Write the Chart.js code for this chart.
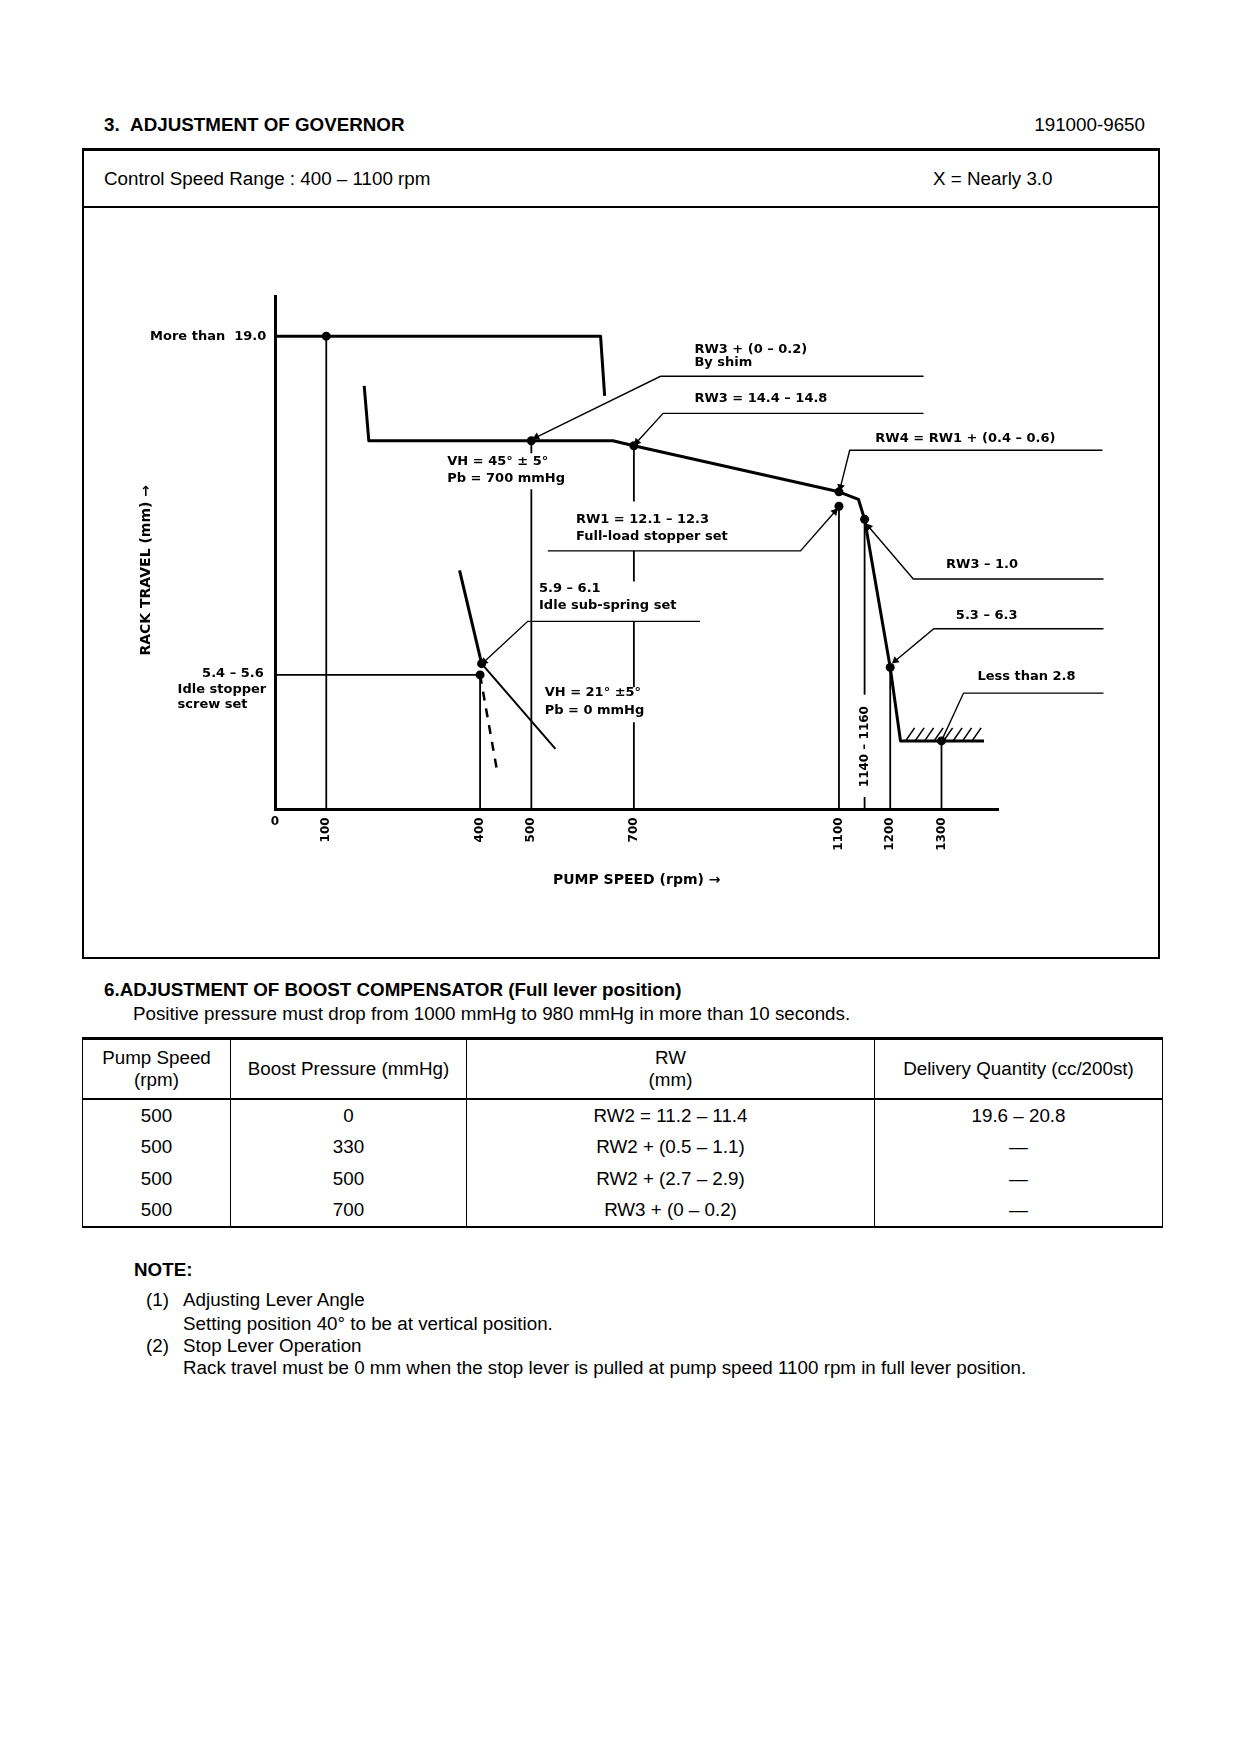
<!DOCTYPE html>
<html>
<head>
<meta charset="utf-8">
<script src="https://cdn.jsdelivr.net/npm/chart.js@4.4.1/dist/chart.umd.min.js"></script>
<style>
  body { margin: 0; background: #fff; }
  #page { position: relative; width: 1240px; height: 1754px; font-family: "Liberation Sans", Arial, sans-serif; font-size: 18.8px; color: #000; }
  .t { position: absolute; white-space: nowrap; line-height: 20px; }
  .b { font-weight: bold; }
  #box { position: absolute; left: 82px; top: 148px; width: 1074px; height: 806px; border: 2px solid #000; border-top-width: 3px; }
  #sep { position: absolute; left: 82px; top: 206px; width: 1078px; height: 2px; background: #000; }
  #gov { position: absolute; left: 83px; top: 209px; }
  #tbl { position: absolute; left: 82px; top: 1037px; width: 1080px; border-collapse: collapse; table-layout: fixed; }
  #tbl td, #tbl th { font-weight: normal; text-align: center; padding: 0; border-left: 1.5px solid #000; border-right: 1.5px solid #000; line-height: 22px; }
  #tbl tr.hd th { height: 58px; border-top: 3px solid #000; border-bottom: 2px solid #000; }
  #tbl tr.row td { height: 31.5px; }
  #tbl tr.row:last-child td { border-bottom: 2px solid #000; }
</style>
</head>
<body>
<div id="page">
  <div class="t b" style="left:104px; top:115px;">3.&nbsp;&nbsp;ADJUSTMENT OF GOVERNOR</div>
  <div class="t" style="right:95px; top:115px;">191000-9650</div>
  <div id="box"></div>
  <div id="sep"></div>
  <div class="t" style="left:104px; top:169px;">Control Speed Range : 400 – 1100 rpm</div>
  <div class="t" style="left:933px; top:169px;">X = Nearly 3.0</div>
  <canvas id="gov" width="1075" height="748"></canvas>

  <div class="t b" style="left:104px; top:980px;">6.ADJUSTMENT OF BOOST COMPENSATOR (Full lever position)</div>
  <div class="t" style="left:133px; top:1004px;">Positive pressure must drop from 1000 mmHg to 980 mmHg in more than 10 seconds.</div>
  <table id="tbl">
    <colgroup><col style="width:148px"><col style="width:236px"><col style="width:408px"><col style="width:288px"></colgroup>
    <tr class="hd"><th>Pump Speed<br>(rpm)</th><th>Boost Pressure (mmHg)</th><th>RW<br>(mm)</th><th>Delivery Quantity (cc/200st)</th></tr>
  </table>

  <div class="t b" style="left:134px; top:1260px;">NOTE:</div>
  <div class="t" style="left:146px; top:1290px;">(1)</div>
  <div class="t" style="left:183px; top:1290px;">Adjusting Lever Angle</div>
  <div class="t" style="left:183px; top:1314px;">Setting position 40° to be at vertical position.</div>
  <div class="t" style="left:146px; top:1336px;">(2)</div>
  <div class="t" style="left:183px; top:1336px;">Stop Lever Operation</div>
  <div class="t" style="left:183px; top:1358px;">Rack travel must be 0 mm when the stop lever is pulled at pump speed 1100 rpm in full lever position.</div>
</div>

<script>
// boost compensator table
const tblSpeed = [500, 500, 500, 500];
const tblBoost = [0, 330, 500, 700];
const tblRW = ['RW2 = 11.2 – 11.4', 'RW2 + (0.5 – 1.1)', 'RW2 + (2.7 – 2.9)', 'RW3 + (0 – 0.2)'];
const tblDelivery = ['19.6 – 20.8', '—', '—', '—'];

// governor curve (pump speed rpm / rack travel mm)
const tickRpm = [0, 100, 400, 500, 700, 1100, 1200, 1300];

const maxRpm = [0, 635, 643];
const maxTravel = [19.0, 19.0, 16.6];

const fullRpm = [174, 183, 659, 700, 1100, 1138, 1150, 1200, 1220, 1383];
const fullTravel = [17.0, 14.8, 14.8, 14.6, 12.75, 12.45, 11.65, 5.7, 2.75, 2.75];

const idleRpm = [360, 403];
const idleTravel = [9.6, 5.85];

const subRpm = [403, 547];
const subTravel = [5.85, 2.43];

const stopRpm = [400, 434];
const stopTravel = [5.4, 1.45];

const screwRpm = [0, 400];
const screwTravel = [5.4, 5.4];

const pointRpm = [100, 500, 700, 1100, 1100, 1150, 1200, 1300, 403, 400];
const pointTravel = [19.0, 14.8, 14.6, 12.75, 12.17, 11.65, 5.7, 2.75, 5.85, 5.4];

const guideRpm = [100, 400, 500, 700, 1100, 1150, 1200, 1300];
const guideSpans = [
  [[0, 19.0]],
  [[0, 5.4]],
  [[0, 12.85], [14.3, 14.8]],
  [[0, 3.5], [4.9, 7.55], [9.15, 10.38], [12.36, 14.6]],
  [[0, 12.17]],
  [[0, 0.5], [4.6, 11.65]],
  [[0, 5.7]],
  [[0, 2.75]]
];

const floorRpm = [1230, 1385];
const floorTravel = 2.75;

// leader lines, arrow at the first point
const leaderRpm = [
  [510, 752, 1265],
  [706, 757, 1265],
  [1103, 1121, 1614],
  [1092, 1025, 532],
  [1158, 1245, 1616],
  [1210, 1285, 1616],
  [1300, 1343, 1616],
  [408, 493, 829]
];
const leaderTravel = [
  [14.95, 17.39, 17.39],
  [14.75, 15.9, 15.9],
  [12.95, 14.42, 14.42],
  [11.95, 10.38, 10.38],
  [11.35, 9.25, 9.25],
  [5.97, 7.25, 7.25],
  [2.75, 4.67, 4.67],
  [5.93, 7.55, 7.55]
];
const leaderArrow = [true, true, true, true, true, true, false, true];

const notes = [
  { text: 'More than  19.0', rpm: -17, mm: 19.0, align: 'right' },
  { text: '5.4 – 5.6', rpm: -22, mm: 5.44, align: 'right' },
  { text: 'Idle stopper', rpm: -190, mm: 4.81, align: 'left' },
  { text: 'screw set', rpm: -190, mm: 4.22, align: 'left' },
  { text: 'VH = 45° ± 5°', rpm: 336, mm: 13.97, align: 'left' },
  { text: 'Pb = 700 mmHg', rpm: 336, mm: 13.3, align: 'left' },
  { text: 'RW3 + (0 – 0.2)', rpm: 818, mm: 18.46, align: 'left' },
  { text: 'By shim', rpm: 818, mm: 17.92, align: 'left' },
  { text: 'RW3 = 14.4 – 14.8', rpm: 818, mm: 16.49, align: 'left' },
  { text: 'RW4 = RW1 + (0.4 – 0.6)', rpm: 1171, mm: 14.87, align: 'left' },
  { text: 'RW1 = 12.1 – 12.3', rpm: 587, mm: 11.64, align: 'left' },
  { text: 'Full-load stopper set', rpm: 587, mm: 10.96, align: 'left' },
  { text: '5.9 – 6.1', rpm: 515, mm: 8.85, align: 'left' },
  { text: 'Idle sub-spring set', rpm: 515, mm: 8.18, align: 'left' },
  { text: 'RW3 – 1.0', rpm: 1309, mm: 9.84, align: 'left' },
  { text: '5.3 – 6.3', rpm: 1328, mm: 7.77, align: 'left' },
  { text: 'VH = 21° ±5°', rpm: 526, mm: 4.67, align: 'left' },
  { text: 'Pb = 0 mmHg', rpm: 526, mm: 3.95, align: 'left' },
  { text: 'Less than 2.8', rpm: 1370, mm: 5.35, align: 'left' },
  { text: '0', rpm: 0, mm: -0.5, align: 'center', tick: true },
  { text: '1140 – 1160', rpm: 1150, mm: 2.52, align: 'center', rot: true },
  { text: 'RACK TRAVEL (mm) →', rpm: -251, mm: 9.6, align: 'center', rot: true, axis: true }
];

// table rows
const tbl = document.getElementById('tbl');
tblSpeed.forEach((s, i) => {
  const tr = document.createElement('tr');
  tr.className = 'row';
  [s, tblBoost[i], tblRW[i], tblDelivery[i]].forEach(v => {
    const td = document.createElement('td');
    td.textContent = v;
    tr.appendChild(td);
  });
  tbl.appendChild(tr);
});

function series(xs, ys) {
  return xs.map((x, i) => ({ x: x, y: ys[i] }));
}

function curve(xs, ys, width, dash) {
  return {
    data: series(xs, ys),
    showLine: true,
    borderColor: '#000',
    borderWidth: width,
    borderDash: dash || [],
    borderJoinStyle: 'round',
    pointRadius: 0,
    clip: false
  };
}

const datasets = [];
datasets.push(curve(maxRpm, maxTravel, 3));
datasets.push(curve(fullRpm, fullTravel, 3));
datasets.push(curve(idleRpm, idleTravel, 3));
datasets.push(curve(subRpm, subTravel, 2));
datasets.push(curve(stopRpm, stopTravel, 2.5, [9, 8]));
datasets.push(curve(screwRpm, screwTravel, 1.8));

guideRpm.forEach((r, i) => {
  const pts = [];
  guideSpans[i].forEach(sp => {
    pts.push({ x: r, y: sp[0] }, { x: r, y: sp[1] }, { x: r, y: null });
  });
  datasets.push({
    data: pts, showLine: true, spanGaps: false, borderColor: '#000',
    borderWidth: 1.8, pointRadius: 0, clip: false
  });
});

leaderRpm.forEach((rs, i) => {
  const ts = leaderTravel[i];
  const arrow = leaderArrow[i];
  datasets.push({
    data: series(rs, ts),
    showLine: true,
    borderColor: '#000',
    borderWidth: 1.4,
    backgroundColor: '#000',
    pointStyle: 'triangle',
    pointBorderWidth: 0,
    pointRadius: c => (arrow && c.dataIndex === 0) ? 4.5 : 0,
    pointRotation: c => {
      const sx = c.chart.scales.x, sy = c.chart.scales.y;
      const dx = sx.getPixelForValue(rs[0]) - sx.getPixelForValue(rs[1]);
      const dy = sy.getPixelForValue(ts[0]) - sy.getPixelForValue(ts[1]);
      return Math.atan2(dy, dx) * 180 / Math.PI + 90;
    },
    clip: false
  });
});

datasets.push({
  data: series(pointRpm, pointTravel),
  showLine: false,
  pointRadius: 4.5,
  pointStyle: 'circle',
  backgroundColor: '#000',
  borderColor: '#000',
  pointBorderWidth: 0,
  clip: false
});

const notesPlugin = {
  id: 'notes',
  afterDatasetsDraw(chart) {
    const { ctx, scales: { x, y } } = chart;
    ctx.save();
    ctx.fillStyle = '#000';
    ctx.strokeStyle = '#000';
    ctx.textBaseline = 'middle';
    notes.forEach(n => {
      const px = x.getPixelForValue(n.rpm);
      const py = y.getPixelForValue(n.mm);
      ctx.save();
      ctx.translate(px, py);
      if (n.rot) ctx.rotate(-Math.PI / 2);
      let size = 13;
      if (n.axis) size = 14;
      else if (n.rot || n.tick) size = 12;
      ctx.font = 'bold ' + size + 'px "DejaVu Sans"';
      ctx.textAlign = n.align;
      ctx.fillText(n.text, 0, 0);
      ctx.restore();
    });
    // hatching on the stop floor
    const x1 = x.getPixelForValue(floorRpm[0]);
    const x2 = x.getPixelForValue(floorRpm[1]);
    const fy = y.getPixelForValue(floorTravel);
    ctx.lineWidth = 1.6;
    ctx.beginPath();
    for (let hx = x1; hx + 9 <= x2 + 1; hx += 9.5) {
      ctx.moveTo(hx, fy);
      ctx.lineTo(hx + 9, fy - 13);
    }
    ctx.stroke();
    ctx.restore();
  }
};

const tickFont = { family: 'DejaVu Sans', weight: 'bold', size: 12 };

new Chart(document.getElementById('gov'), {
  type: 'scatter',
  data: { datasets: datasets },
  options: {
    responsive: false,
    animation: false,
    events: [],
    layout: { padding: { top: 87.3, right: 159.6, left: 0, bottom: 0 } },
    plugins: { legend: { display: false }, tooltip: { enabled: false } },
    scales: {
      x: {
        type: 'linear',
        min: 0,
        max: 1411,
        grid: { display: false, drawTicks: false },
        border: { display: true, width: 3, color: '#000' },
        afterBuildTicks: s => { s.ticks = tickRpm.map(v => ({ value: v })); },
        ticks: {
          autoSkip: false, minRotation: 90, maxRotation: 90, padding: 8,
          color: '#000', font: tickFont, callback: v => (v === 0 ? '' : String(v))
        },
        title: {
          display: true, text: 'PUMP SPEED (rpm) →', color: '#000',
          font: { family: 'DejaVu Sans', weight: 'bold', size: 14 },
          padding: { top: 0, bottom: 68 }
        },
        afterFit: s => { s.height = 147.6; }
      },
      y: {
        type: 'linear',
        min: 0,
        max: 20.6,
        grid: { display: false, drawTicks: false },
        border: { display: true, width: 3, color: '#000' },
        ticks: { display: false },
        afterFit: s => { s.width = 192; }
      }
    }
  },
  plugins: [notesPlugin]
});
</script>
</body>
</html>
